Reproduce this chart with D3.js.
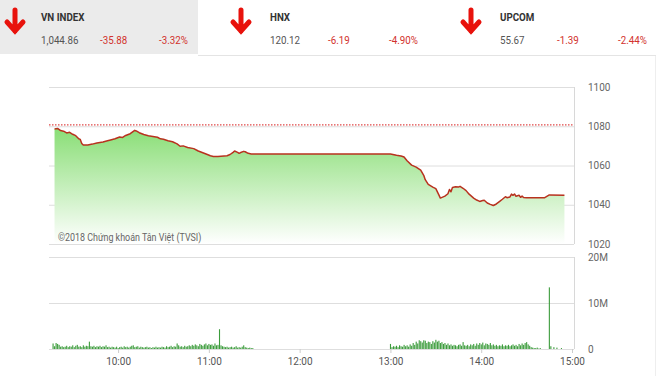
<!DOCTYPE html>
<html>
<head>
<meta charset="utf-8">
<script src="https://d3js.org/d3.v7.min.js"></script>
<style>
  body { margin: 0; background: #fff; }
  svg text { font-family: Roboto, "Open Sans", sans-serif; }
  .grid line { stroke: #dedede; }
  .grid .domain { stroke: none; }
  .grid text { fill: #666; font-size: 10px; }
  .xaxis line { stroke: #ccc; }
  .xaxis .domain { stroke: none; }
  .xaxis text { fill: #555; font-size: 10px; }
</style>
</head>
<body>
<svg id="chart" width="660" height="376"></svg>
<script>
// ---- header data
const indexNames = ["VN INDEX", "HNX", "UPCOM"];
const indexValues = ["1,044.86", "120.12", "55.67"];
const indexChanges = ["-35.88", "-6.19", "-1.39"];
const indexPercents = ["-3.32%", "-4.90%", "-2.44%"];

// ---- intraday index line
const refValue = 1080.74;
const lineTimes = ["09:18","09:20","09:22","09:24","09:26","09:28","09:30","09:32","09:34","09:35",
  "09:36","09:37","09:40","09:43","09:46","09:50","09:53","09:55","09:58","10:01",
  "10:03","10:05","10:08","10:11","10:12","10:14","10:17","10:20","10:23","10:26",
  "10:28","10:30","10:33","10:36","10:39","10:41","10:43","10:46","10:50","10:53",
  "10:56","10:59","11:01","11:03","11:06","11:10","11:12","11:14","11:16","11:17",
  "11:19","11:20","11:21","11:23","11:24","11:26","11:28","11:30","13:00","13:04",
  "13:07","13:09","13:11","13:14","13:17","13:20","13:22","13:23","13:25","13:28",
  "13:30","13:32","13:33","13:36","13:38","13:39","13:40","13:41","13:43","13:45",
  "13:46","13:48","13:50","13:52","13:55","13:57","13:59","14:01","14:02","14:04",
  "14:06","14:08","14:10","14:12","14:14","14:16","14:17","14:19","14:20","14:21",
  "14:22","14:23","14:25","14:26","14:27","14:28","14:30","14:42","14:45","14:55"];
const lineValues = [1078.6,1078.9,1077.8,1077.5,1076.6,1076.9,1075.9,1075.2,1073.6,1073.3,
  1071.2,1070.4,1070.5,1070.9,1071.5,1072.0,1072.6,1073.0,1073.6,1074.5,
  1074.3,1075.3,1076.2,1077.9,1077.6,1076.7,1075.8,1075.2,1074.8,1074.4,
  1073.6,1073.4,1072.6,1072.1,1071.0,1069.8,1070.0,1069.2,1068.6,1067.4,
  1066.5,1065.6,1065.0,1064.6,1064.6,1064.9,1065.0,1065.6,1066.7,1067.4,
  1066.7,1066.2,1066.6,1067.2,1067.0,1066.2,1065.9,1065.9,1065.9,1065.2,
  1064.8,1064.3,1062.4,1060.2,1059.2,1057.6,1055.0,1052.8,1050.4,1049.0,
  1048.2,1045.0,1043.4,1044.4,1045.6,1047.8,1046.6,1048.8,1049.2,1049.0,
  1049.4,1048.4,1047.2,1045.4,1043.4,1042.4,1041.7,1042.2,1042.3,1040.9,
  1040.2,1039.6,1040.4,1041.6,1042.8,1044.1,1043.6,1044.0,1045.4,1044.8,
  1045.5,1044.3,1044.8,1043.8,1044.4,1043.7,1043.6,1043.6,1045.0,1044.9];
const priceTicks = [1020, 1040, 1060, 1080, 1100];

// ---- volume per minute, millions of shares
const volMorningStart = "09:17";
const volMorning = [1.2,0.6,1.3,1.1,0.9,0.5,0.6,0.4,0.5,0.7,
  0.4,0.6,0.5,0.8,0.4,0.7,0.9,0.5,0.6,0.4,
  0.8,0.5,0.7,0.6,1.6,0.6,0.5,0.7,0.4,0.6,
  0.5,0.7,0.4,0.6,0.5,0.8,0.4,0.5,0.3,0.5,
  0.4,0.3,0.5,0.2,0.4,0.5,0.3,0.6,0.4,0.5,
  0.3,0.5,0.7,0.8,0.4,0.5,0.6,0.3,0.5,0.4,
  0.3,0.4,0.5,0.3,0.4,0.2,0.4,0.3,0.5,0.3,
  0.4,0.3,0.5,0.4,0.3,0.6,0.4,0.5,0.7,0.4,
  0.6,0.5,1.2,0.8,0.5,0.6,0.4,0.7,0.5,0.6,
  0.8,0.6,0.9,0.7,1.0,0.8,0.6,1.1,0.9,0.7,
  1.0,1.2,0.8,1.1,0.9,1.0,0.7,1.2,0.8,0.9,
  4.3,0.8,0.6,0.5,0.4,0.5,0.3,0.4,0.5,0.3,
  0.4,0.6,0.3,0.4,0.3,0.5,0.8,0.4,0.3,0.2,
  0.3,0.2,0.2];
const volAfternoonStart = "13:00";
const volAfternoon = [1.1,0.4,0.6,0.5,0.7,0.4,0.8,0.6,0.5,0.9,
  0.6,0.8,0.5,1.0,0.7,1.3,0.9,1.6,1.2,1.9,
  1.7,1.4,1.9,1.8,1.3,1.6,1.5,1.1,1.7,1.4,
  2.0,1.6,1.8,1.3,1.5,1.1,1.3,0.9,1.2,0.8,
  1.0,0.7,0.9,0.8,0.6,0.9,1.0,0.7,1.5,0.8,
  0.7,0.9,0.6,1.0,0.8,1.1,0.7,1.2,0.9,1.3,
  1.0,1.4,0.8,1.2,1.1,0.9,1.3,0.8,1.0,0.7,
  0.9,0.6,0.8,0.7,1.0,0.6,0.8,0.7,0.9,0.6,
  0.8,1.0,0.7,0.9,0.6,1.1,0.8,1.2,0.9,1.3,
  1.5,1.0,0.7,0.4,0.3,0.2,0.2,0.3,0.1,0.2];
const volCloseTimes = ["14:45","14:46","14:48","14:50","14:53"];
const volClose = [13.4,0.6,0.4,0.3,0.2];
const volTicks = [0, 10, 20];
const volTickLabels = ["0", "10M", "20M"];

const svg = d3.select("#chart");
const parseTime = d3.timeParse("%H:%M");

// ---- header
svg.append("rect").attr("x", 0).attr("y", 0).attr("width", 198).attr("height", 54).attr("fill", "#ebebeb");
svg.append("line").attr("x1", 198).attr("x2", 656).attr("y1", 55.5).attr("y2", 55.5).attr("stroke", "#e4e4e4");
svg.append("line").attr("x1", 655.5).attr("x2", 655.5).attr("y1", 56).attr("y2", 376).attr("stroke", "#eeeeee");

const headX = [41, 270, 500];
const arrowX = [15, 241, 471];
indexNames.forEach((name, i) => {
  const g = svg.append("g");
  // red down arrow
  g.append("path")
    .attr("d", `M${arrowX[i]},10 V31 M${arrowX[i]-8},22 L${arrowX[i]},31 L${arrowX[i]+8},22`)
    .attr("fill", "none").attr("stroke", "#e8120c").attr("stroke-width", 5)
    .attr("stroke-linecap", "round");
  g.append("text").attr("x", headX[i]).attr("y", 21)
    .attr("font-size", 11.5).attr("font-weight", "bold").attr("fill", "#333")
    .attr("transform", `translate(${headX[i]*0.15},0) scale(0.85,1)`)
    .text(name);
  g.append("text").attr("x", headX[i]).attr("y", 44)
    .attr("font-size", 11.5).attr("fill", "#555")
    .attr("transform", `translate(${headX[i]*0.15},0) scale(0.85,1)`)
    .text(indexValues[i]);
  const cx = headX[i] + [59, 58, 57][i];
  g.append("text").attr("x", cx).attr("y", 44)
    .attr("font-size", 11.5).attr("fill", "#d2322d")
    .attr("transform", `translate(${cx*0.15},0) scale(0.85,1)`)
    .text(indexChanges[i]);
  const px = headX[i] + [118, 119, 118][i];
  g.append("text").attr("x", px).attr("y", 44)
    .attr("font-size", 11.5).attr("fill", "#d2322d")
    .attr("transform", `translate(${px*0.15},0) scale(0.85,1)`)
    .text(indexPercents[i]);
});

// ---- scales
const x = d3.scaleTime().domain([parseTime("09:15"), parseTime("15:00")]).range([50, 572]);
const yPrice = d3.scaleLinear().domain([1020, 1100]).range([244, 87]);
const yVol = d3.scaleLinear().domain([0, 20]).range([349, 257]);

// ---- price panel
svg.append("g").attr("class", "grid")
  .attr("transform", "translate(574,0)")
  .call(d3.axisRight(yPrice).tickValues(priceTicks).tickSize(-525).tickPadding(14).tickFormat(d3.format("d")));
svg.append("line").attr("x1", 574.5).attr("x2", 574.5).attr("y1", 87).attr("y2", 244).attr("stroke", "#d8d8d8");

const grad = svg.append("defs").append("linearGradient")
  .attr("id", "fillGrad").attr("gradientUnits", "userSpaceOnUse")
  .attr("x1", 0).attr("x2", 0).attr("y1", 125).attr("y2", 244);
grad.append("stop").attr("offset", 0).attr("stop-color", "#86dd72");
grad.append("stop").attr("offset", 1).attr("stop-color", "#ffffff");

const pts = lineTimes.map((t, i) => ({ t: parseTime(t), v: lineValues[i] }));
svg.append("path").datum(pts)
  .attr("fill", "url(#fillGrad)")
  .attr("d", d3.area().x(d => x(d.t)).y0(yPrice(1020)).y1(d => yPrice(d.v)));

svg.append("line")
  .attr("x1", 49).attr("x2", 574)
  .attr("y1", yPrice(refValue)).attr("y2", yPrice(refValue))
  .attr("stroke", "#e04848").attr("stroke-width", 1.2).attr("stroke-dasharray", "1.5,1.5");

svg.append("path").datum(pts)
  .attr("fill", "none").attr("stroke", "#b8321f").attr("stroke-width", 1.5)
  .attr("stroke-linejoin", "round")
  .attr("d", d3.line().x(d => x(d.t)).y(d => yPrice(d.v)));

svg.append("text").attr("x", 58).attr("y", 241)
  .attr("font-size", 10.5).attr("fill", "#666")
  .attr("transform", "translate(8.7,0) scale(0.85,1)")
  .text("©2018 Chứng khoán Tân Việt (TVSI)");

// ---- volume panel
svg.append("g").attr("class", "grid")
  .attr("transform", "translate(574,0)")
  .call(d3.axisRight(yVol).tickValues(volTicks).tickSize(-525).tickPadding(14)
    .tickFormat((d, i) => volTickLabels[i]));
svg.append("line").attr("x1", 574.5).attr("x2", 574.5).attr("y1", 257).attr("y2", 349).attr("stroke", "#d8d8d8");

const bars = [];
const m0 = parseTime(volMorningStart), a0 = parseTime(volAfternoonStart);
volMorning.forEach((v, i) => bars.push({ t: d3.timeMinute.offset(m0, i), v }));
volAfternoon.forEach((v, i) => bars.push({ t: d3.timeMinute.offset(a0, i), v }));
volCloseTimes.forEach((t, i) => bars.push({ t: parseTime(t), v: volClose[i] }));

svg.append("g").selectAll("rect").data(bars).join("rect")
  .attr("x", d => x(d.t) - 0.5)
  .attr("width", 1.1)
  .attr("y", d => yVol(d.v))
  .attr("height", d => yVol(0) - yVol(d.v))
  .attr("fill", "#3c9c3c");

svg.append("g").attr("class", "xaxis")
  .attr("transform", "translate(0,349)")
  .call(d3.axisBottom(x)
    .tickValues(["10:00","11:00","12:00","13:00","14:00","15:00"].map(parseTime))
    .tickSize(4).tickPadding(5).tickFormat(d3.timeFormat("%H:%M")));
</script>
</body>
</html>
